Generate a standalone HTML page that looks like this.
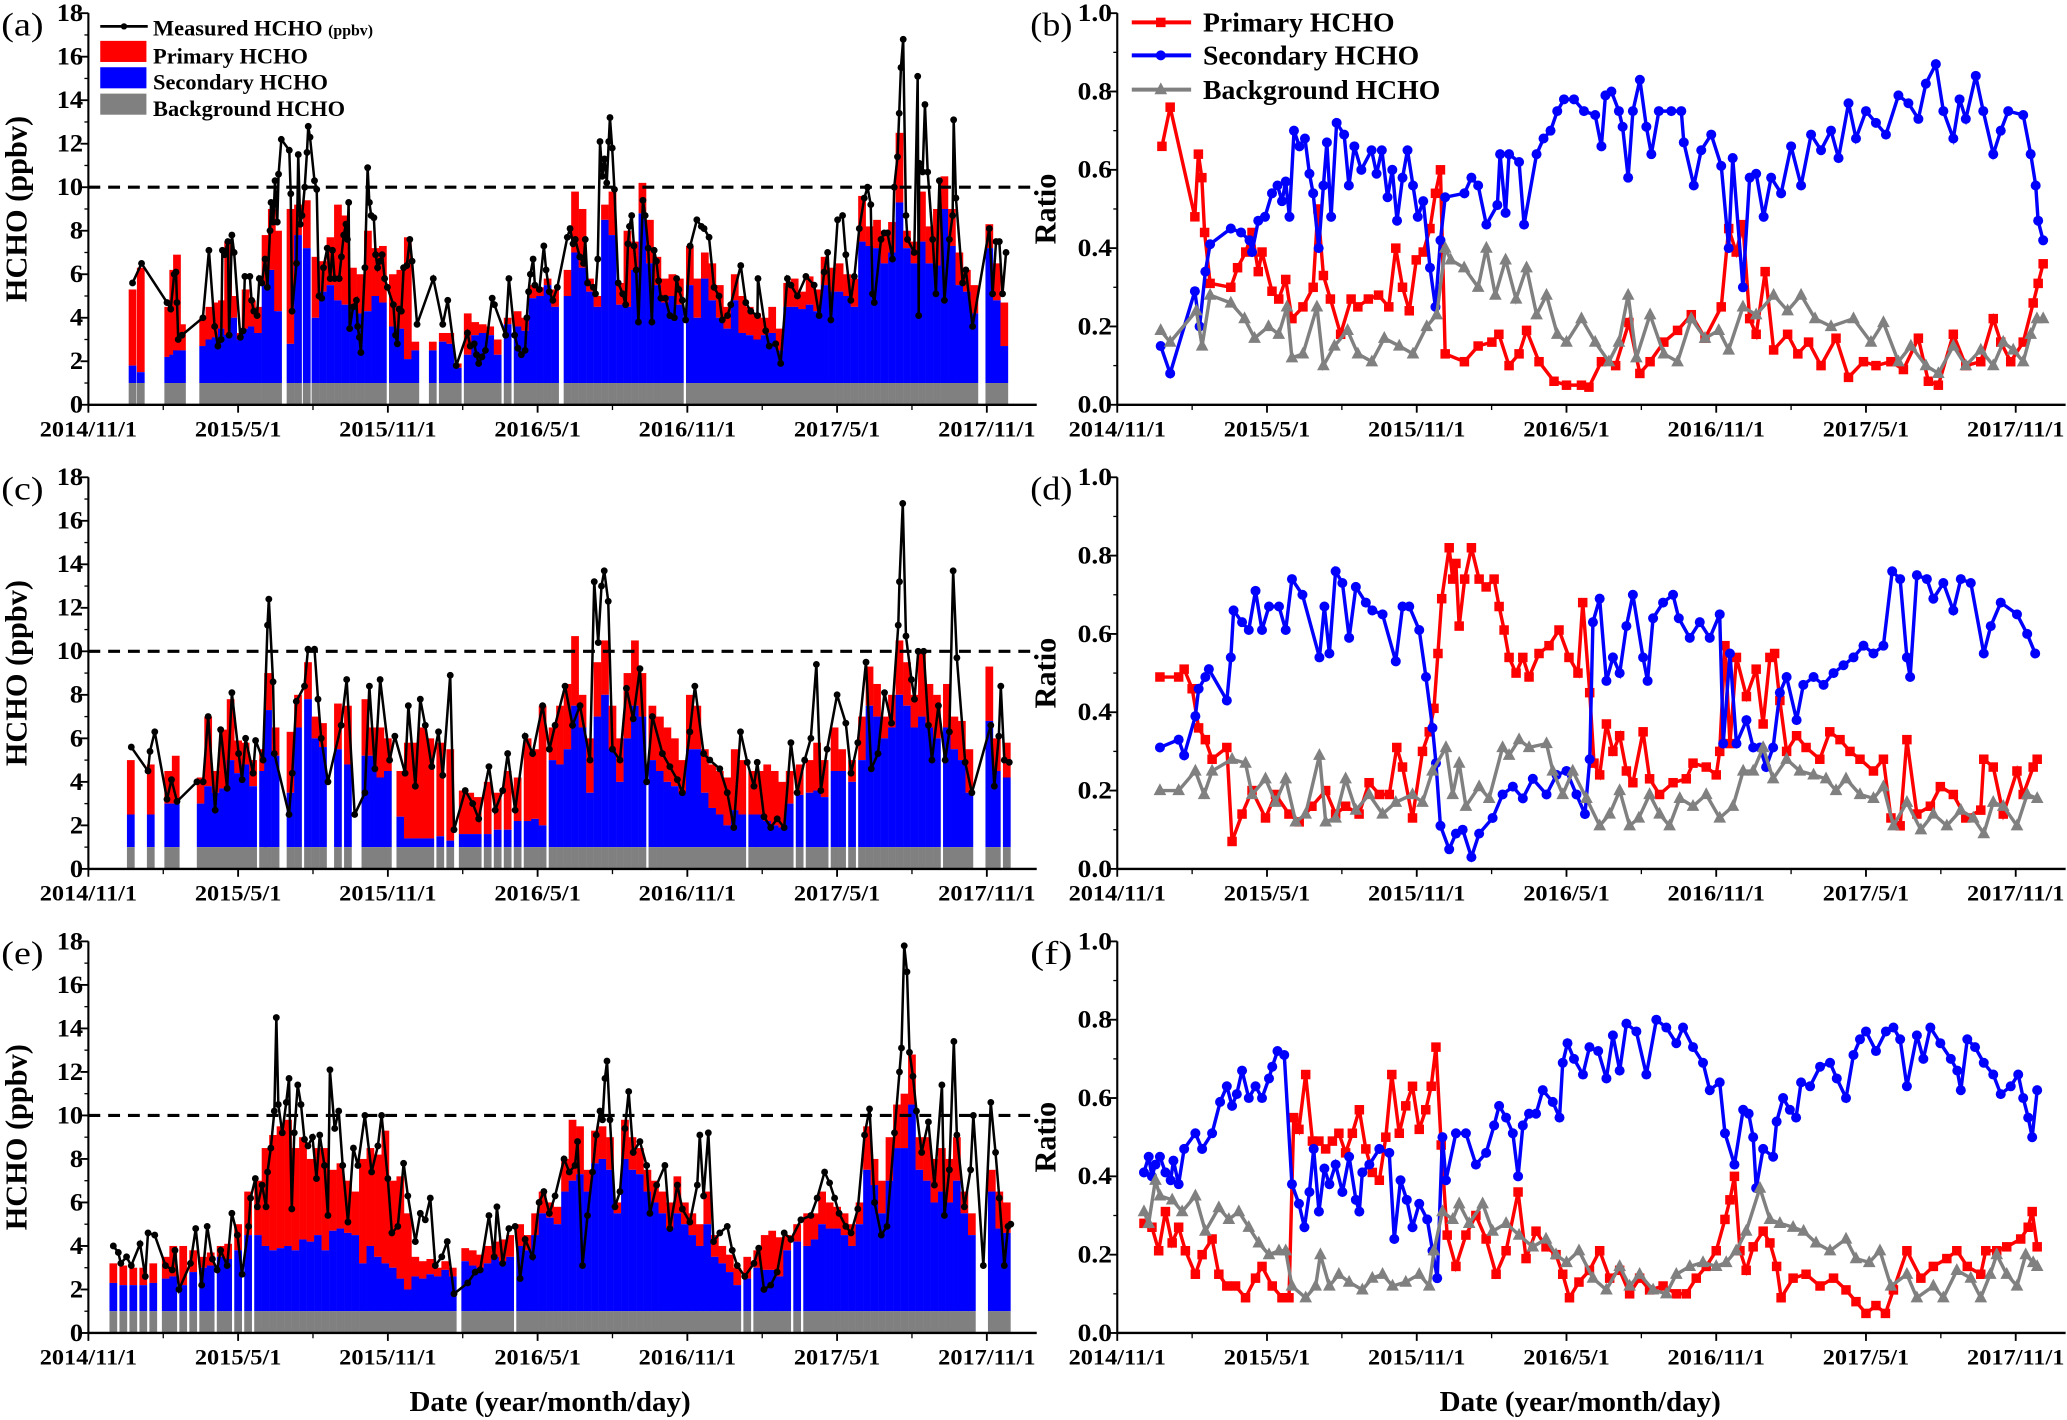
<!DOCTYPE html>
<html><head><meta charset="utf-8"><title>HCHO source apportionment</title>
<style>html,body{margin:0;padding:0;background:#fff;}svg{display:block;}text{font-family:"Liberation Serif",serif;}</style>
</head><body>
<svg id="fig" xmlns="http://www.w3.org/2000/svg" width="2067" height="1420" viewBox="0 0 1567 1077" preserveAspectRatio="none"></svg>
<script>
// ---------- data (t = months since 2014/11/1) ----------
const xTickLabels = ["2014/11/1","2015/5/1","2015/11/1","2016/5/1","2016/11/1","2017/5/1","2017/11/1"];
const hchoTicks = [0,2,4,6,8,10,12,14,16,18];
const ratioTicks = ["0.0","0.2","0.4","0.6","0.8","1.0"];
const threshold = 10;
const backgroundLevel = 1;

const aMeasured = [[1.77,5.6],[2.13,6.5],[3.15,4.7],[3.3,4.4],[3.44,6.0],[3.51,6.1],[3.55,4.7],[3.6,3.0],[3.75,3.2],[4.59,4.0],[4.83,7.1],[5.06,3.6],[5.19,2.7],[5.32,3.0],[5.37,7.1],[5.46,6.9],[5.59,7.5],[5.64,3.2],[5.75,7.8],[5.84,7.0],[6.09,3.1],[6.2,3.4],[6.27,5.9],[6.47,5.9],[6.54,4.8],[6.63,4.3],[6.76,4.1],[6.85,5.8],[6.95,5.6],[7.08,6.7],[7.17,5.4],[7.28,8.0],[7.32,9.3],[7.41,8.4],[7.48,10.3],[7.57,8.4],[7.62,10.6],[7.73,12.2],[8.05,11.7],[8.11,9.7],[8.16,4.3],[8.34,6.5],[8.41,11.5],[8.49,8.3],[8.56,8.7],[8.67,10.0],[8.76,11.6],[8.81,12.8],[8.88,12.3],[9.06,10.3],[9.15,9.9],[9.24,5.0],[9.35,4.9],[9.42,6.3],[9.57,7.2],[9.69,5.8],[9.78,7.1],[9.87,5.8],[10.05,5.8],[10.14,6.8],[10.23,7.8],[10.32,8.3],[10.38,7.6],[10.43,9.3],[10.47,3.5],[10.61,4.5],[10.74,4.8],[10.79,3.6],[10.86,3.1],[10.92,2.4],[11.08,6.3],[11.19,10.9],[11.26,9.3],[11.33,8.7],[11.44,8.6],[11.51,6.9],[11.59,6.3],[11.69,6.6],[11.77,6.9],[11.87,5.8],[11.98,5.4],[12.22,4.6],[12.31,3.2],[12.38,2.8],[12.45,4.4],[12.54,4.3],[12.63,6.3],[12.76,6.4],[12.88,7.6],[12.97,6.6],[13.17,3.7],[13.82,5.8],[14.2,3.7],[14.4,4.8],[14.74,1.8],[15.19,3.3],[15.3,2.7],[15.46,2.8],[15.55,2.3],[15.64,1.9],[15.77,2.2],[15.91,2.5],[16.18,4.9],[16.27,4.6],[16.72,3.2],[16.85,5.8],[17.08,3.2],[17.21,2.6],[17.35,2.3],[17.5,2.5],[17.57,4.0],[17.64,5.2],[17.71,6.0],[17.82,6.7],[17.89,5.5],[18.07,5.3],[18.25,7.3],[18.34,6.2],[18.47,5.2],[18.61,4.8],[18.79,5.4],[19.19,7.7],[19.3,8.1],[19.42,7.4],[19.51,7.6],[19.69,6.8],[19.84,6.5],[19.91,7.6],[20.0,5.6],[20.23,5.4],[20.32,5.1],[20.41,6.7],[20.5,12.1],[20.59,10.5],[20.68,11.3],[20.77,10.2],[20.85,12.1],[20.9,13.2],[20.99,11.8],[21.08,9.9],[21.23,5.6],[21.41,5.1],[21.53,4.6],[21.62,7.4],[21.68,8.2],[21.77,8.7],[21.86,7.3],[21.95,6.2],[22.04,3.8],[22.22,9.4],[22.31,8.7],[22.43,7.2],[22.58,3.8],[22.67,7.1],[22.76,6.6],[22.85,5.7],[22.94,4.9],[23.12,4.9],[23.3,4.1],[23.48,4.0],[23.57,5.8],[23.66,5.3],[23.8,4.8],[23.93,3.9],[24.11,7.3],[24.38,8.5],[24.56,8.2],[24.67,8.1],[24.87,7.7],[25.07,5.4],[25.27,5.0],[25.4,3.9],[25.61,4.1],[25.74,4.6],[26.14,6.4],[26.34,4.7],[26.54,4.3],[26.81,4.1],[26.83,5.8],[27.14,3.4],[27.28,2.7],[27.54,2.8],[27.74,1.9],[28.01,5.8],[28.15,5.5],[28.41,5.0],[28.75,5.9],[29.08,5.5],[29.28,4.1],[29.48,6.1],[29.62,7.0],[29.75,3.9],[30.02,8.5],[30.22,8.7],[30.35,6.9],[30.55,4.8],[30.69,5.9],[30.89,8.1],[31.09,9.5],[31.22,10.0],[31.35,9.2],[31.42,5.1],[31.49,4.7],[31.76,7.6],[31.89,7.9],[32.02,7.9],[32.22,6.7],[32.29,10.0],[32.42,11.4],[32.49,13.4],[32.56,15.5],[32.65,16.8],[32.76,8.7],[32.82,7.6],[33.09,7.0],[33.23,15.1],[33.27,4.1],[33.29,11.1],[33.43,10.7],[33.52,13.8],[33.63,10.7],[33.83,7.6],[33.96,5.1],[34.1,10.3],[34.3,4.8],[34.5,7.6],[34.63,8.7],[34.67,13.1],[34.76,9.5],[35.03,5.6],[35.16,6.2],[35.43,3.6],[36.1,8.1],[36.23,5.1],[36.37,7.5],[36.5,7.5],[36.63,5.1],[36.77,7.0]];
const aBars = [[1.77,5.3,1.8],[2.1,6.3,1.5],[3.2,4.5,2.2],[3.4,6.2,2.3],[3.55,6.9,2.5],[3.75,3.7,2.5],[4.6,4.0,2.7],[4.85,4.5,3.0],[5.1,4.7,3.1],[5.35,4.8,3.5],[5.6,7.5,3.2],[5.8,5.0,4.0],[6.1,3.3,3.0],[6.3,5.3,3.5],[6.55,4.8,3.6],[6.8,4.5,3.3],[7.1,7.8,5.5],[7.35,9.0,6.2],[7.6,8.0,4.3],[8.1,9.0,2.8],[8.4,9.2,7.8],[8.75,9.4,7.2],[9.1,6.8,4.0],[9.4,6.6,5.2],[9.7,7.7,5.5],[10.0,9.2,4.8],[10.3,8.7,4.6],[10.6,6.3,4.5],[10.9,6.0,4.2],[11.2,8.0,4.3],[11.5,7.2,5.0],[11.8,7.3,4.7],[12.2,6.0,3.6],[12.5,6.2,3.5],[12.8,7.7,2.1],[13.1,2.9,2.5],[13.8,2.9,2.5],[14.2,3.3,2.9],[14.5,3.3,2.8],[14.8,1.9,1.7],[15.2,4.2,2.3],[15.5,3.8,3.2],[15.8,3.7,3.3],[16.1,3.6,3.2],[16.4,3.0,2.3],[16.8,4.0,3.7],[17.2,4.3,3.6],[17.5,4.0,3.4],[17.8,5.5,4.9],[18.1,5.4,5.0],[18.4,5.8,5.5],[18.7,5.3,4.5],[19.2,6.2,5.0],[19.5,9.8,7.0],[19.8,9.0,6.3],[20.1,5.8,5.2],[20.4,5.0,4.5],[20.7,9.2,8.5],[21.0,9.8,7.8],[21.3,5.6,4.6],[21.6,8.0,4.5],[21.9,7.5,6.2],[22.2,10.2,8.8],[22.5,8.5,6.5],[22.8,6.8,5.5],[23.1,5.8,4.7],[23.4,6.0,5.0],[23.7,5.8,4.6],[24.1,7.3,5.5],[24.4,5.8,4.0],[24.7,7.0,5.8],[25.0,6.5,4.8],[25.3,5.5,4.0],[25.6,4.5,3.5],[25.9,6.0,4.8],[26.2,5.0,3.3],[26.5,4.5,3.2],[26.8,4.2,3.0],[27.1,4.0,3.2],[27.4,4.5,3.3],[27.7,3.5,2.5],[28.0,5.6,4.5],[28.3,5.8,4.5],[28.6,5.2,4.4],[28.9,5.9,4.6],[29.2,5.3,4.3],[29.5,6.8,5.5],[29.8,6.3,5.2],[30.1,6.5,5.2],[30.4,6.0,5.0],[30.7,5.8,4.5],[31.0,9.6,7.5],[31.3,8.2,7.3],[31.6,8.5,7.2],[31.9,8.0,6.5],[32.2,8.4,7.0],[32.5,12.5,9.3],[32.8,8.0,7.2],[33.1,7.5,6.5],[33.4,9.8,7.5],[33.7,8.2,6.5],[34.0,9.0,6.4],[34.3,10.5,9.0],[34.6,9.0,7.3],[34.9,7.0,5.5],[35.2,6.2,5.2],[35.5,5.5,4.2],[36.1,8.3,7.2],[36.4,6.5,4.8],[36.7,4.7,2.7]];

const cMeasured = [[1.72,5.6],[2.39,4.5],[2.47,5.4],[2.66,6.3],[3.15,3.2],[3.33,4.1],[3.55,3.1],[4.35,4.0],[4.6,4.0],[4.8,7.0],[5.08,2.7],[5.3,6.4],[5.56,3.7],[5.75,8.1],[6.02,5.3],[6.16,4.1],[6.3,6.0],[6.6,4.4],[6.7,5.9],[7.0,5.0],[7.18,11.2],[7.23,12.4],[7.4,8.6],[7.45,5.3],[8.04,2.5],[8.17,4.4],[8.33,7.7],[8.66,8.4],[8.8,10.1],[9.06,10.1],[9.2,7.8],[9.33,6.0],[9.6,4.0],[10.13,6.6],[10.35,8.7],[10.67,2.5],[11.08,3.5],[11.26,8.4],[11.48,4.6],[11.69,8.7],[12.07,5.0],[12.28,6.1],[12.69,4.4],[12.82,7.5],[13.1,3.8],[13.3,7.8],[13.5,6.6],[13.76,4.7],[14.03,6.3],[14.2,4.3],[14.5,8.9],[14.65,1.8],[15.1,3.6],[15.4,3.0],[15.64,2.3],[16.05,4.7],[16.3,2.7],[16.6,3.6],[16.8,5.3],[17.1,2.7],[17.5,6.1],[17.8,5.3],[18.2,7.5],[18.47,5.5],[18.7,6.6],[19.1,8.4],[19.4,6.6],[19.7,7.5],[20.1,5.0],[20.27,13.2],[20.43,10.4],[20.56,13.0],[20.67,13.7],[20.83,12.3],[21.0,5.5],[21.3,5.0],[21.56,8.3],[21.83,6.9],[22.1,9.2],[22.37,4.0],[22.6,7.0],[23.0,5.3],[23.3,4.7],[23.6,4.1],[23.8,3.5],[24.1,6.3],[24.3,8.4],[24.65,5.3],[24.9,5.0],[25.3,4.6],[25.6,3.5],[25.86,1.9],[26.13,6.3],[26.4,4.9],[26.67,3.8],[26.8,4.9],[27.07,2.4],[27.34,1.9],[27.6,2.3],[27.88,1.9],[28.15,5.8],[28.4,3.5],[28.7,5.0],[28.95,6.0],[29.17,9.4],[29.35,3.6],[29.6,5.5],[30.0,8.0],[30.35,6.7],[30.56,4.4],[30.83,5.8],[31.16,9.5],[31.37,4.6],[31.64,5.3],[31.9,8.1],[32.18,6.7],[32.45,11.2],[32.5,13.2],[32.63,16.8],[32.76,10.7],[32.98,8.7],[33.1,7.8],[33.25,10.0],[33.47,10.0],[33.66,6.6],[33.8,5.0],[34.06,7.5],[34.33,5.0],[34.5,6.3],[34.65,13.7],[34.8,9.7],[35.13,4.9],[35.4,3.5],[36.16,6.6],[36.3,3.8],[36.48,6.1],[36.56,8.4],[36.7,5.0],[36.9,4.9]];
const cBars = [[1.7,5.0,2.5],[2.5,4.8,2.5],[3.2,4.5,3.0],[3.5,5.2,3.0],[4.5,4.2,3.0],[4.8,7.0,3.8],[5.1,4.5,3.5],[5.4,6.4,3.7],[5.7,7.8,5.0],[6.0,5.9,4.4],[6.3,5.8,4.8],[6.6,5.0,3.8],[7.0,5.5,4.5],[7.2,9.0,7.3],[7.5,6.5,5.2],[8.1,6.3,3.5],[8.4,8.0,6.5],[8.8,9.5,7.8],[9.1,7.0,6.0],[9.4,6.7,5.6],[10.0,7.6,5.5],[10.4,7.5,4.8],[11.1,7.8,5.2],[11.4,6.5,5.2],[11.7,6.5,4.2],[12.0,6.0,4.5],[12.5,4.5,2.4],[12.8,5.8,1.4],[13.1,5.8,1.4],[13.4,6.5,1.4],[13.7,6.0,1.4],[14.1,5.8,1.5],[14.5,5.5,1.3],[15.0,3.6,1.6],[15.3,3.5,1.6],[15.6,3.3,1.6],[16.0,4.0,1.6],[16.4,3.5,1.8],[16.8,4.5,1.8],[17.2,4.2,2.2],[17.6,6.0,2.2],[17.9,5.5,2.3],[18.2,7.5,2.0],[18.6,6.5,5.0],[18.9,7.5,4.8],[19.2,8.5,5.5],[19.5,10.7,7.5],[19.8,8.0,6.5],[20.1,6.0,3.5],[20.4,9.5,7.0],[20.7,10.5,8.0],[21.0,7.5,5.5],[21.3,6.0,4.0],[21.6,9.0,6.0],[21.9,10.5,7.5],[22.2,9.0,7.0],[22.6,7.5,5.0],[22.9,7.0,4.5],[23.2,6.5,4.0],[23.5,6.0,3.8],[23.8,5.0,3.5],[24.1,8.0,5.5],[24.4,7.5,5.5],[24.7,5.5,3.5],[25.0,4.8,2.8],[25.3,4.5,2.5],[25.6,4.2,2.0],[25.9,5.5,2.7],[26.2,5.0,2.5],[26.6,4.5,2.5],[26.9,4.5,2.5],[27.2,4.8,2.2],[27.5,4.5,2.0],[27.8,4.0,1.9],[28.1,4.5,3.0],[28.5,4.8,3.4],[28.9,5.0,3.5],[29.2,5.8,3.6],[29.5,5.0,3.3],[29.9,6.5,4.5],[30.2,5.5,4.5],[30.6,5.0,4.0],[31.0,7.0,5.0],[31.3,9.3,7.5],[31.6,8.5,7.0],[31.9,7.0,6.0],[32.2,8.0,6.5],[32.5,10.5,8.0],[32.8,9.5,7.5],[33.1,8.0,6.5],[33.4,10.0,7.0],[33.7,8.5,6.5],[34.0,8.0,6.0],[34.4,8.5,6.5],[34.7,7.0,5.5],[35.0,6.8,5.0],[35.3,5.5,3.5],[36.1,9.3,6.8],[36.4,6.0,4.5],[36.8,5.8,4.2]];

const eMeasured = [[1.0,4.0],[1.2,3.7],[1.3,3.2],[1.53,3.5],[1.72,3.1],[2.07,4.1],[2.28,2.6],[2.39,4.6],[2.66,4.5],[3.09,3.1],[3.36,2.9],[3.47,3.8],[3.63,2.0],[4.09,3.2],[4.3,4.8],[4.54,2.2],[4.76,4.9],[4.97,3.4],[5.16,2.9],[5.3,3.8],[5.56,3.1],[5.75,5.5],[5.97,4.5],[6.16,2.7],[6.42,4.9],[6.5,6.2],[6.69,7.1],[6.77,5.8],[6.96,6.8],[7.12,5.8],[7.18,7.4],[7.31,8.5],[7.45,10.2],[7.53,14.5],[7.61,10.5],[7.77,9.2],[7.93,10.6],[8.04,11.7],[8.15,5.7],[8.25,9.2],[8.39,11.4],[8.52,10.5],[8.66,8.9],[8.8,8.6],[8.98,9.0],[9.14,7.1],[9.27,9.1],[9.46,7.7],[9.6,5.4],[9.68,12.1],[9.87,9.4],[10.03,10.2],[10.19,7.7],[10.4,5.1],[10.62,8.5],[10.8,7.7],[11.08,10.0],[11.35,7.4],[11.6,8.6],[11.75,10.0],[12.0,7.1],[12.16,4.6],[12.4,4.9],[12.63,7.8],[12.8,6.3],[13.1,4.2],[13.3,5.5],[13.5,5.2],[13.7,6.2],[13.9,3.1],[14.16,3.5],[14.38,4.2],[14.65,1.8],[15.2,2.3],[15.5,2.8],[15.7,2.9],[16.05,5.4],[16.26,3.5],[16.37,5.8],[16.6,3.2],[16.85,4.8],[17.1,4.9],[17.3,2.5],[17.5,4.3],[17.8,3.5],[18.06,6.0],[18.25,6.5],[18.47,5.5],[18.7,6.3],[19.06,8.0],[19.27,7.4],[19.5,7.7],[19.6,8.8],[19.8,3.1],[20.0,5.4],[20.2,7.4],[20.35,9.1],[20.5,10.2],[20.6,9.8],[20.7,11.7],[20.78,12.5],[20.9,9.8],[21.1,5.8],[21.3,6.5],[21.5,9.4],[21.65,11.1],[21.83,8.3],[22.1,8.8],[22.37,7.7],[22.5,5.5],[22.77,6.8],[23.1,7.7],[23.3,4.8],[23.6,6.8],[23.8,5.7],[24.1,5.1],[24.4,6.8],[24.5,9.1],[24.65,6.3],[24.84,9.2],[25.05,4.2],[25.3,4.6],[25.6,4.9],[25.8,3.8],[26.0,3.1],[26.3,2.6],[26.67,3.2],[26.86,3.9],[27.07,2.0],[27.34,2.2],[27.6,2.8],[27.88,4.6],[28.15,4.3],[28.55,5.2],[28.95,5.4],[29.2,6.2],[29.5,7.4],[29.7,6.9],[29.9,6.2],[30.08,5.5],[30.35,4.9],[30.56,4.6],[30.83,5.7],[31.1,9.1],[31.3,10.3],[31.5,6.0],[31.77,4.5],[32.0,4.9],[32.3,9.2],[32.5,12.0],[32.58,13.1],[32.69,17.8],[32.8,16.6],[32.9,12.9],[33.04,11.8],[33.18,10.2],[33.39,8.3],[33.66,9.7],[33.9,6.8],[34.2,11.4],[34.3,5.4],[34.5,7.5],[34.68,13.4],[34.8,9.1],[35.1,5.8],[35.35,7.5],[35.46,10.0],[35.86,3.1],[36.16,10.6],[36.35,8.3],[36.5,6.2],[36.7,3.1],[36.85,4.9],[36.96,5.0]];
const eBars = [[1.0,3.2,2.3],[1.4,3.1,2.2],[1.8,3.0,2.2],[2.2,3.0,2.2],[2.6,3.2,2.3],[3.1,3.5,2.5],[3.4,4.0,2.6],[3.8,4.0,2.2],[4.2,3.8,2.8],[4.6,3.5,3.0],[4.9,3.7,3.1],[5.3,4.0,3.5],[5.6,4.1,3.4],[6.0,5.0,3.8],[6.4,6.5,4.5],[6.8,7.0,4.5],[7.1,8.5,4.0],[7.4,9.1,3.8],[7.7,9.5,3.9],[8.0,9.8,4.0],[8.3,8.5,3.8],[8.6,9.0,4.3],[8.9,8.0,4.2],[9.2,8.5,4.5],[9.5,8.5,3.8],[9.8,7.5,4.7],[10.1,7.8,4.8],[10.4,7.0,4.6],[10.7,6.5,4.5],[11.0,8.0,3.2],[11.3,8.5,4.0],[11.6,8.2,3.5],[11.9,9.3,3.2],[12.2,7.0,3.0],[12.5,7.2,2.5],[12.8,5.5,2.0],[13.1,3.5,2.6],[13.4,3.3,2.5],[13.7,3.4,2.7],[14.0,3.0,2.6],[14.3,3.3,2.9],[14.6,3.0,2.6],[15.1,3.9,3.3],[15.4,3.8,3.1],[15.7,3.6,3.0],[16.0,4.0,3.2],[16.3,4.2,3.5],[16.6,4.3,3.3],[16.9,4.5,3.5],[17.3,5.0,4.0],[17.6,4.5,3.8],[17.9,5.5,4.5],[18.2,6.5,5.5],[18.5,6.0,5.3],[18.8,5.8,5.0],[19.1,8.0,6.5],[19.4,9.8,7.0],[19.7,9.5,7.3],[20.0,7.5,6.5],[20.3,9.3,7.8],[20.6,9.5,8.0],[20.9,9.0,7.5],[21.2,6.0,5.5],[21.5,9.8,8.0],[21.8,9.0,7.5],[22.1,8.5,7.3],[22.4,7.5,6.5],[22.7,7.0,6.0],[23.0,6.5,5.5],[23.3,6.0,4.8],[23.6,7.2,5.5],[23.9,6.0,5.0],[24.2,5.5,4.5],[24.5,5.0,4.0],[24.8,6.5,5.0],[25.1,4.5,3.5],[25.4,4.0,3.2],[25.7,3.6,2.8],[26.0,3.0,2.2],[26.4,3.5,2.5],[26.8,3.8,3.0],[27.1,4.5,2.9],[27.4,4.7,2.9],[27.7,4.4,2.6],[28.0,4.5,3.8],[28.4,5.0,4.2],[28.8,5.5,4.0],[29.1,5.5,4.3],[29.4,6.5,5.0],[29.7,6.0,4.8],[30.0,5.8,4.8],[30.3,5.5,4.5],[30.6,5.0,4.0],[30.9,6.0,5.0],[31.2,9.5,7.5],[31.5,8.0,6.8],[31.8,7.0,5.5],[32.1,9.0,7.0],[32.4,10.5,8.5],[32.7,11.0,8.5],[33.0,12.8,10.5],[33.3,9.0,7.5],[33.6,9.0,7.0],[33.9,8.0,6.0],[34.2,8.5,6.5],[34.5,8.0,6.0],[34.8,9.0,7.0],[35.1,6.5,5.5],[35.4,5.5,4.5],[36.2,7.5,6.5],[36.5,6.5,4.8],[36.8,6.0,4.6]];

const bPrimary = [[1.79,.66],[2.12,.76],[3.11,.48],[3.25,.64],[3.39,.58],[3.5,.44],[3.72,.31],[4.55,.30],[4.82,.35],[5.15,.39],[5.4,.44],[5.65,.34],[5.8,.39],[6.2,.29],[6.47,.27],[6.75,.32],[7.0,.22],[7.44,.25],[7.85,.30],[8.04,.50],[8.26,.33],[8.54,.27],[8.95,.18],[9.37,.27],[9.64,.25],[10.06,.27],[10.47,.28],[10.88,.25],[11.16,.40],[11.43,.30],[11.7,.24],[11.98,.37],[12.26,.39],[12.53,.45],[12.75,.54],[12.95,.60],[13.14,.13],[13.91,.11],[14.46,.15],[15.01,.16],[15.29,.18],[15.7,.10],[16.1,.13],[16.4,.19],[16.9,.11],[17.5,.06],[18.0,.05],[18.6,.05],[18.9,.045],[19.4,.11],[19.97,.10],[20.5,.21],[20.94,.08],[21.35,.11],[21.9,.16],[22.45,.19],[23.0,.23],[23.55,.17],[24.2,.25],[24.5,.45],[24.8,.39],[25.07,.46],[25.34,.22],[25.6,.18],[25.96,.34],[26.3,.14],[26.86,.18],[27.27,.13],[27.7,.16],[28.2,.10],[28.8,.17],[29.3,.07],[29.9,.11],[30.4,.10],[31.0,.11],[31.5,.09],[32.1,.17],[32.5,.06],[32.9,.05],[33.5,.18],[34.0,.10],[34.6,.11],[35.1,.22],[35.4,.16],[35.8,.11],[36.3,.16],[36.7,.26],[36.9,.31],[37.1,.36]];
const bSecondary = [[1.74,.15],[2.12,.08],[3.11,.29],[3.3,.2],[3.53,.34],[3.72,.41],[4.55,.45],[4.96,.44],[5.3,.42],[5.4,.39],[5.65,.47],[5.92,.48],[6.2,.54],[6.42,.56],[6.6,.52],[6.75,.57],[6.9,.48],[7.08,.70],[7.3,.66],[7.52,.68],[7.7,.59],[7.85,.54],[8.07,.40],[8.26,.56],[8.4,.67],[8.57,.48],[8.79,.72],[9.09,.69],[9.28,.56],[9.5,.66],[9.78,.60],[10.19,.65],[10.39,.59],[10.6,.65],[10.83,.53],[11.02,.60],[11.21,.47],[11.43,.58],[11.63,.65],[11.85,.56],[12.04,.48],[12.26,.52],[12.53,.35],[12.75,.25],[12.95,.42],[13.14,.53],[13.91,.54],[14.19,.58],[14.46,.56],[14.79,.46],[15.23,.51],[15.34,.64],[15.56,.49],[15.7,.64],[16.1,.62],[16.3,.46],[16.8,.64],[17.08,.68],[17.36,.70],[17.63,.75],[17.9,.78],[18.3,.78],[18.7,.75],[19.15,.74],[19.4,.66],[19.56,.79],[19.8,.80],[20.1,.75],[20.25,.71],[20.47,.58],[20.66,.75],[20.94,.83],[21.2,.71],[21.4,.64],[21.7,.75],[22.2,.75],[22.6,.75],[22.7,.67],[23.1,.56],[23.4,.65],[23.8,.69],[24.2,.61],[24.5,.40],[24.66,.63],[25.07,.30],[25.34,.58],[25.6,.59],[25.9,.48],[26.2,.58],[26.6,.54],[27.0,.66],[27.4,.56],[27.8,.69],[28.2,.65],[28.6,.70],[28.9,.63],[29.3,.77],[29.6,.68],[30.0,.75],[30.4,.72],[30.8,.69],[31.3,.79],[31.7,.77],[32.1,.73],[32.4,.82],[32.8,.87],[33.1,.75],[33.5,.68],[33.75,.78],[34.0,.73],[34.4,.84],[34.7,.75],[35.1,.64],[35.4,.70],[35.7,.75],[36.3,.74],[36.6,.64],[36.8,.56],[36.9,.47],[37.1,.42]];
const bBackground = [[1.74,.19],[2.12,.16],[3.17,.24],[3.4,.15],[3.72,.28],[4.55,.26],[5.1,.22],[5.5,.17],[6.06,.20],[6.47,.18],[6.8,.25],[7.0,.12],[7.44,.13],[8.0,.25],[8.26,.10],[8.7,.15],[9.23,.19],[9.64,.13],[10.2,.11],[10.7,.17],[11.3,.15],[11.85,.13],[12.4,.20],[12.8,.23],[13.14,.40],[13.36,.37],[13.9,.35],[14.46,.30],[14.79,.40],[15.15,.28],[15.56,.37],[15.98,.27],[16.4,.35],[16.8,.23],[17.2,.28],[17.63,.18],[18.0,.16],[18.6,.22],[19.15,.16],[19.7,.11],[20.1,.16],[20.47,.28],[20.8,.12],[21.35,.23],[21.9,.13],[22.45,.11],[23.0,.22],[23.55,.17],[24.1,.19],[24.5,.14],[25.07,.25],[25.6,.23],[26.3,.28],[26.86,.24],[27.4,.28],[27.96,.22],[28.6,.20],[29.5,.22],[30.2,.16],[30.7,.21],[31.3,.11],[31.8,.15],[32.4,.10],[32.9,.08],[33.5,.15],[34.0,.10],[34.6,.14],[35.1,.10],[35.5,.16],[35.9,.14],[36.3,.11],[36.6,.18],[36.85,.22],[37.1,.22]];

const dPrimary = [[1.71,.49],[2.46,.49],[2.68,.51],[3.0,.46],[3.26,.36],[3.53,.33],[3.8,.28],[4.39,.31],[4.6,.07],[5.0,.14],[5.4,.20],[5.94,.13],[6.34,.19],[6.88,.14],[7.29,.12],[7.8,.16],[8.35,.20],[8.75,.14],[9.15,.16],[9.69,.14],[10.09,.22],[10.5,.19],[10.9,.19],[11.2,.31],[11.43,.26],[11.83,.13],[12.23,.30],[12.5,.35],[12.69,.41],[12.85,.55],[13.0,.69],[13.3,.82],[13.44,.74],[13.57,.78],[13.7,.62],[13.92,.74],[14.19,.82],[14.5,.74],[14.78,.72],[15.1,.74],[15.3,.67],[15.5,.61],[15.7,.54],[15.98,.50],[16.25,.54],[16.5,.49],[16.9,.55],[17.3,.57],[17.7,.61],[18.1,.54],[18.46,.50],[18.65,.68],[18.93,.45],[19.1,.27],[19.33,.24],[19.6,.37],[19.86,.30],[20.13,.34],[20.4,.25],[20.66,.22],[21.07,.35],[21.33,.23],[21.73,.19],[22.27,.22],[22.8,.23],[23.07,.27],[23.6,.26],[24.0,.24],[24.14,.30],[24.35,.57],[24.55,.32],[24.81,.54],[25.21,.44],[25.6,.51],[25.88,.37],[26.15,.54],[26.34,.55],[26.55,.43],[26.82,.30],[27.22,.34],[27.6,.31],[28.15,.28],[28.55,.35],[28.96,.33],[29.36,.30],[29.76,.28],[30.3,.25],[30.7,.28],[31.0,.13],[31.37,.11],[31.64,.33],[32.04,.14],[32.58,.16],[32.98,.21],[33.5,.19],[34.0,.13],[34.6,.15],[34.72,.28],[35.1,.26],[35.5,.14],[36.05,.25],[36.3,.19],[36.7,.26],[36.86,.28]];
const dSecondary = [[1.71,.31],[2.46,.33],[2.68,.29],[3.13,.39],[3.26,.46],[3.53,.49],[3.67,.51],[4.39,.43],[4.55,.54],[4.66,.66],[5.0,.63],[5.27,.61],[5.54,.71],[5.8,.61],[6.08,.67],[6.48,.67],[6.75,.61],[7.0,.74],[7.42,.70],[8.1,.54],[8.3,.67],[8.5,.55],[8.75,.76],[9.02,.73],[9.29,.59],[9.56,.72],[9.96,.68],[10.22,.66],[10.63,.65],[11.16,.53],[11.43,.67],[11.7,.67],[12.1,.61],[12.37,.49],[12.63,.36],[12.77,.27],[12.95,.11],[13.3,.05],[13.57,.09],[13.84,.10],[14.19,.03],[14.5,.09],[15.04,.13],[15.44,.19],[15.85,.21],[16.25,.18],[16.65,.23],[17.2,.19],[17.6,.24],[18.0,.25],[18.4,.19],[18.74,.14],[18.93,.28],[19.06,.63],[19.33,.69],[19.6,.48],[19.86,.54],[20.13,.50],[20.4,.62],[20.66,.70],[21.07,.54],[21.25,.48],[21.47,.64],[21.87,.68],[22.27,.70],[22.5,.64],[22.94,.59],[23.34,.63],[23.74,.59],[24.14,.65],[24.28,.32],[24.55,.55],[24.81,.32],[25.21,.38],[25.48,.31],[25.75,.31],[26.0,.26],[26.28,.31],[26.55,.45],[26.82,.49],[27.22,.38],[27.49,.47],[27.9,.49],[28.3,.47],[28.7,.50],[29.1,.52],[29.5,.54],[29.9,.57],[30.3,.55],[30.7,.57],[31.05,.76],[31.37,.74],[31.64,.54],[31.77,.49],[32.04,.75],[32.44,.74],[32.7,.69],[33.1,.73],[33.5,.66],[33.8,.74],[34.2,.73],[34.72,.55],[35.0,.62],[35.4,.68],[36.05,.65],[36.46,.60],[36.78,.55]];
const dBackground = [[1.71,.20],[2.46,.20],[3.13,.25],[3.48,.19],[3.8,.25],[4.6,.28],[5.14,.27],[5.4,.19],[5.94,.23],[6.34,.17],[6.75,.23],[7.15,.12],[7.55,.14],[8.1,.29],[8.35,.12],[8.75,.13],[9.15,.23],[9.56,.15],[10.09,.19],[10.63,.14],[11.16,.17],[11.83,.19],[12.23,.17],[12.63,.25],[13.17,.31],[13.44,.19],[13.7,.27],[13.97,.16],[14.5,.21],[14.9,.18],[15.44,.31],[15.7,.29],[16.1,.33],[16.5,.31],[17.2,.32],[17.45,.25],[17.85,.19],[18.25,.25],[18.8,.18],[19.33,.11],[19.73,.14],[20.13,.20],[20.53,.11],[20.9,.13],[21.33,.19],[21.73,.14],[22.13,.11],[22.54,.18],[23.07,.16],[23.6,.19],[24.14,.13],[24.67,.16],[25.08,.25],[25.48,.25],[25.88,.31],[26.28,.23],[26.82,.28],[27.35,.25],[27.9,.24],[28.4,.23],[28.8,.20],[29.2,.23],[29.76,.19],[30.3,.18],[30.7,.21],[31.1,.11],[31.64,.17],[32.2,.10],[32.7,.14],[33.24,.11],[33.8,.15],[34.3,.13],[34.72,.09],[35.1,.17],[35.5,.16],[36.05,.11],[36.46,.19],[36.86,.18]];

const fPrimary = [[1.07,.28],[1.39,.27],[1.66,.21],[1.93,.31],[2.2,.23],[2.46,.27],[2.73,.21],[3.13,.15],[3.4,.20],[3.8,.24],[4.07,.15],[4.39,.12],[4.74,.12],[5.14,.09],[5.54,.14],[5.8,.17],[6.21,.12],[6.6,.09],[6.88,.09],[7.07,.55],[7.28,.52],[7.55,.66],[7.82,.49],[8.08,.49],[8.35,.47],[8.62,.49],[8.88,.51],[9.15,.46],[9.42,.51],[9.7,.57],[9.96,.47],[10.22,.41],[10.5,.39],[10.76,.50],[11.0,.66],[11.3,.51],[11.56,.58],[11.83,.63],[12.1,.52],[12.36,.57],[12.58,.63],[12.77,.73],[12.98,.48],[13.22,.25],[13.57,.17],[13.97,.25],[14.37,.30],[14.78,.24],[15.18,.15],[15.58,.21],[16.06,.36],[16.38,.19],[16.78,.26],[17.18,.22],[17.58,.20],[17.85,.15],[18.12,.09],[18.5,.13],[18.92,.16],[19.33,.21],[19.73,.14],[20.13,.16],[20.53,.10],[20.93,.14],[21.33,.11],[21.87,.12],[22.4,.10],[22.8,.10],[23.2,.14],[23.6,.17],[24.0,.21],[24.35,.29],[24.55,.34],[24.73,.40],[24.95,.21],[25.2,.16],[25.48,.22],[25.88,.26],[26.15,.23],[26.42,.17],[26.6,.09],[27.08,.14],[27.6,.15],[28.16,.12],[28.7,.14],[29.2,.11],[29.6,.08],[30.0,.05],[30.4,.07],[30.78,.05],[31.1,.11],[31.64,.21],[32.2,.14],[32.7,.17],[33.24,.19],[33.64,.21],[34.06,.17],[34.6,.15],[34.8,.21],[35.24,.21],[35.64,.22],[36.2,.24],[36.5,.27],[36.66,.31],[36.86,.22]];
const fSecondary = [[1.07,.41],[1.26,.45],[1.39,.40],[1.53,.43],[1.71,.45],[1.93,.41],[2.14,.39],[2.25,.44],[2.46,.38],[2.68,.47],[3.13,.51],[3.4,.47],[3.8,.51],[4.12,.59],[4.39,.63],[4.6,.58],[4.79,.61],[5.0,.67],[5.27,.60],[5.54,.63],[5.8,.60],[6.08,.65],[6.21,.68],[6.42,.72],[6.69,.71],[7.0,.38],[7.28,.33],[7.5,.27],[7.7,.36],[7.87,.47],[8.08,.31],[8.3,.42],[8.5,.38],[8.75,.43],[9.02,.36],[9.29,.45],[9.56,.34],[9.7,.31],[9.82,.41],[10.1,.43],[10.5,.47],[10.9,.46],[11.1,.24],[11.35,.39],[11.6,.34],[11.83,.27],[12.1,.33],[12.42,.29],[12.63,.21],[12.82,.14],[13.03,.50],[13.17,.39],[13.57,.51],[13.97,.51],[14.37,.43],[14.78,.46],[15.1,.53],[15.3,.58],[15.58,.55],[15.85,.51],[16.06,.40],[16.25,.53],[16.5,.56],[16.78,.56],[17.05,.62],[17.45,.59],[17.72,.55],[17.85,.69],[18.04,.74],[18.3,.70],[18.66,.66],[18.92,.73],[19.27,.72],[19.6,.65],[19.86,.76],[20.13,.67],[20.4,.79],[20.8,.77],[21.2,.66],[21.6,.80],[22.0,.78],[22.4,.74],[22.67,.78],[23.07,.73],[23.47,.69],[23.74,.62],[24.14,.64],[24.35,.51],[24.73,.43],[25.08,.57],[25.3,.56],[25.48,.50],[25.6,.37],[25.88,.47],[26.28,.45],[26.42,.54],[26.68,.60],[26.95,.57],[27.2,.55],[27.4,.64],[27.76,.63],[28.16,.68],[28.56,.69],[28.83,.65],[29.2,.60],[29.5,.71],[29.76,.75],[30.0,.77],[30.4,.72],[30.8,.77],[31.1,.78],[31.37,.75],[31.64,.63],[32.04,.76],[32.3,.70],[32.58,.78],[32.98,.74],[33.4,.70],[33.66,.67],[33.8,.62],[34.06,.75],[34.37,.73],[34.72,.69],[35.1,.66],[35.4,.61],[35.8,.63],[36.1,.66],[36.3,.60],[36.5,.55],[36.66,.50],[36.86,.62]];
const fBackground = [[1.07,.31],[1.26,.28],[1.53,.39],[1.71,.35],[2.2,.34],[2.6,.31],[3.13,.35],[3.53,.26],[4.07,.32],[4.47,.29],[4.87,.31],[5.27,.27],[5.67,.23],[6.08,.20],[6.48,.21],[6.75,.21],[7.0,.12],[7.55,.09],[7.95,.12],[8.14,.20],[8.5,.12],[8.88,.15],[9.29,.13],[9.82,.11],[10.22,.14],[10.63,.15],[11.03,.12],[11.56,.13],[12.1,.15],[12.5,.12],[12.69,.21],[13.03,.31],[13.44,.29],[13.7,.33],[14.1,.28],[14.64,.33],[15.04,.26],[15.58,.28],[16.1,.25],[16.65,.22],[17.18,.24],[17.58,.20],[18.0,.18],[18.5,.21],[19.06,.14],[19.6,.11],[20.13,.17],[20.53,.12],[20.93,.15],[21.47,.11],[22.0,.10],[22.4,.15],[22.94,.17],[23.47,.18],[24.0,.17],[24.4,.18],[24.8,.21],[25.2,.26],[25.75,.37],[26.15,.29],[26.55,.28],[27.08,.27],[27.5,.26],[28.0,.23],[28.56,.21],[29.2,.24],[29.6,.19],[30.13,.18],[30.56,.21],[31.0,.12],[31.64,.15],[32.04,.09],[32.7,.12],[33.1,.09],[33.64,.16],[34.2,.14],[34.6,.09],[34.98,.15],[35.24,.20],[35.64,.15],[36.05,.12],[36.4,.20],[36.7,.18],[36.86,.17]];

// ---------- drawing ----------
const NS = "http://www.w3.org/2000/svg";
const svg = document.getElementById('fig');
function mk(tag, attrs, parent) {
  const e = document.createElementNS(NS, tag);
  for (const k in attrs) e.setAttribute(k, attrs[k]);
  (parent || svg).appendChild(e);
  return e;
}
const RED = "#ff0000", BLUE = "#0000ff", GRAY = "#808080";
const LEFT_X0 = 67, RIGHT_X0 = 847, PPM = 18.92, AXIS_MONTHS = 38;
const ROW_Y0 = [307, 659, 1011], AXIS_H = 297;

function xScale(x0) { return t => x0 + t * PPM; }
function yScale(y0, max) { return v => y0 - v / max * AXIS_H; }

function drawAxes(g, x0, y0, max, tickVals, tickLabels, minorStep, label, ytitle, panelName) {
  const X = xScale(x0), Y = yScale(y0, max);
  const ax = mk('g', {}, g);
  
  
  mk('line', {x1: x0, y1: y0, x2: x0, y2: y0 - AXIS_H, stroke: '#000', 'stroke-width': 1.6}, ax);
  mk('line', {x1: x0, y1: y0, x2: X(AXIS_MONTHS), y2: y0, stroke: '#000', 'stroke-width': 1.8}, ax);
  for (let v = 0; v <= max + 1e-9; v += minorStep) {
    mk('line', {x1: x0 - 3, y1: Y(v), x2: x0, y2: Y(v), stroke: '#000', 'stroke-width': 1}, ax);
  }
  tickVals.forEach((v, i) => {
    mk('line', {x1: x0 - 6, y1: Y(v), x2: x0, y2: Y(v), stroke: '#000', 'stroke-width': 1.4}, ax);
    const tx = mk('text', {x: x0 - 4, y: Y(v) + 6, 'text-anchor': 'end', 'font-size': 19, 'font-weight': 'bold', 'textLength': String(tickLabels[i]).length > 2 ? 26 : (String(tickLabels[i]).length * 10), 'lengthAdjust': 'spacingAndGlyphs'}, ax);
    
    
    tx.textContent = tickLabels[i];
  });
  for (let m = 0; m <= AXIS_MONTHS; m += 3) {
    const major = m % 6 === 0;
    mk('line', {x1: X(m), y1: y0, x2: X(m), y2: y0 + (major ? 6 : 4), stroke: '#000', 'stroke-width': major ? 1.4 : 1}, ax);
  }
  xTickLabels.forEach((lab, i) => {
    const tx = mk('text', {x: X(i * 6), y: y0 + 24, 'text-anchor': 'middle', 'font-size': 17, 'font-weight': 'bold', 'textLength': lab.length * 8.2, 'lengthAdjust': 'spacingAndGlyphs'}, ax);
    
    
    tx.textContent = lab;
  });
  const pl = mk('text', {x: x0 - 66, y: y0 - AXIS_H + 17, 'font-size': 25, 'textLength': 32, 'lengthAdjust': 'spacingAndGlyphs'}, ax);
  
  
  pl.textContent = label;
  const cy = y0 - AXIS_H / 2;
  const tx = x0 - 47;
  const yt = mk('text', {x: tx, y: cy, 'text-anchor': 'middle', 'font-size': 23, 'font-weight': 'bold', transform: `rotate(-90 ${tx} ${cy})`}, ax);
  
  
  yt.textContent = ytitle;
}

function drawBarPanel(row, label, bars, measured) {
  const y0 = ROW_Y0[row], X = xScale(LEFT_X0), Y = yScale(y0, 18);
  const g = mk('g', {});
  
  
  const bw = 0.31 * PPM;
  bars.forEach(b => {
    const [t, tot, sec] = b;
    const x = X(t) - bw / 2;
    const r1 = mk('rect', {x: x, y: Y(tot), width: bw, height: Y(sec) - Y(tot), fill: RED}, g);
    
    
    const r2 = mk('rect', {x: x, y: Y(sec), width: bw, height: Y(backgroundLevel) - Y(sec), fill: BLUE}, g);
    
    
    const r3 = mk('rect', {x: x, y: Y(backgroundLevel), width: bw, height: Y(0) - Y(backgroundLevel), fill: GRAY}, g);
    
    
  });
  const dl = mk('line', {x1: LEFT_X0, y1: Y(threshold), x2: X(AXIS_MONTHS), y2: Y(threshold), stroke: '#000', 'stroke-width': 2.4, 'stroke-dasharray': '9 6'}, g);
  
  
  const pts = measured.map(p => X(p[0]).toFixed(1) + ',' + Y(p[1]).toFixed(1)).join(' ');
  const pl = mk('polyline', {points: pts, fill: 'none', stroke: '#000', 'stroke-width': 1.9}, g);
  
  
  measured.forEach(p => {
    const c = mk('circle', {cx: X(p[0]), cy: Y(p[1]), r: 2.6, fill: '#000'}, g);
    
    
  });
  drawAxes(g, LEFT_X0, y0, 18, hchoTicks, hchoTicks, 1, label, 'HCHO (ppbv)', 'hcho-panel-' + label[1]);
}

function marker(g, kind, x, y, color) {
  let m;
  if (kind === 'square') m = mk('rect', {x: x - 3.6, y: y - 3.6, width: 7.2, height: 7.2, fill: color}, g);
  else if (kind === 'circle') m = mk('circle', {cx: x, cy: y, r: 3.8, fill: color}, g);
  else m = mk('polygon', {points: `${x},${y - 5.5} ${x - 4.8},${y + 3.5} ${x + 4.8},${y + 3.5}`, fill: color}, g);
  return m;
}

function drawSeries(g, data, X, Y, color, kind, name) {
  const pts = data.map(p => X(p[0]).toFixed(1) + ',' + Y(p[1]).toFixed(1)).join(' ');
  const pl = mk('polyline', {points: pts, fill: 'none', stroke: color, 'stroke-width': 2.6}, g);
  
  
  data.forEach(p => {
    const m = marker(g, kind, X(p[0]), Y(p[1]), color);
    
    
  });
}

function drawRatioPanel(row, label, pri, sec, bg) {
  const y0 = ROW_Y0[row], X = xScale(RIGHT_X0), Y = yScale(y0, 1);
  const g = mk('g', {});
  
  
  drawSeries(g, pri, X, Y, RED, 'square', 'primary-ratio');
  drawSeries(g, sec, X, Y, BLUE, 'circle', 'secondary-ratio');
  drawSeries(g, bg, X, Y, GRAY, 'triangle', 'background-ratio');
  drawAxes(g, RIGHT_X0, y0, 1, [0, .2, .4, .6, .8, 1], ratioTicks, 0.1, label, 'Ratio', 'ratio-panel-' + label[1]);
}

drawBarPanel(0, '(a)', aBars, aMeasured);
drawBarPanel(1, '(c)', cBars, cMeasured);
drawBarPanel(2, '(e)', eBars, eMeasured);
drawRatioPanel(0, '(b)', bPrimary, bSecondary, bBackground);
drawRatioPanel(1, '(d)', dPrimary, dSecondary, dBackground);
drawRatioPanel(2, '(f)', fPrimary, fSecondary, fBackground);

// ---------- legends ----------
const lgA = mk('g', {});


mk('line', {x1: 76, y1: 20, x2: 112, y2: 20, stroke: '#000', 'stroke-width': 2}, lgA);
mk('circle', {cx: 94, cy: 20, r: 2.4, fill: '#000'}, lgA);
const t1 = mk('text', {x: 116, y: 27, 'font-size': 17, 'font-weight': 'bold'}, lgA);


t1.innerHTML = 'Measured HCHO <tspan font-size="12">(ppbv)</tspan>';
[['Primary HCHO', RED, 48], ['Secondary HCHO', BLUE, 68], ['Background HCHO', GRAY, 88]].forEach(e => {
  mk('rect', {x: 76, y: e[2] - 17, width: 35, height: 16, fill: e[1]}, lgA);
  const t = mk('text', {x: 116, y: e[2], 'font-size': 17, 'font-weight': 'bold'}, lgA);
  
  
  t.textContent = e[0];
});
const lgB = mk('g', {});


[['Primary HCHO', RED, 17, 'square'], ['Secondary HCHO', BLUE, 42, 'circle'], ['Background HCHO', GRAY, 68, 'triangle']].forEach(e => {
  mk('line', {x1: 858, y1: e[2], x2: 903, y2: e[2], stroke: e[1], 'stroke-width': 3}, lgB);
  marker(lgB, e[3], 880, e[2], e[1]);
  const t = mk('text', {x: 912, y: e[2] + 7, 'font-size': 21, 'font-weight': 'bold'}, lgB);
  
  
  t.textContent = e[0];
});
[[417, 'x-axis-title-left'], [1198, 'x-axis-title-right']].forEach(e => {
  const t = mk('text', {x: e[0], y: 1070, 'text-anchor': 'middle', 'font-size': 22, 'font-weight': 'bold'});
  
  
  t.textContent = 'Date (year/month/day)';
});
</script>
</body></html>
